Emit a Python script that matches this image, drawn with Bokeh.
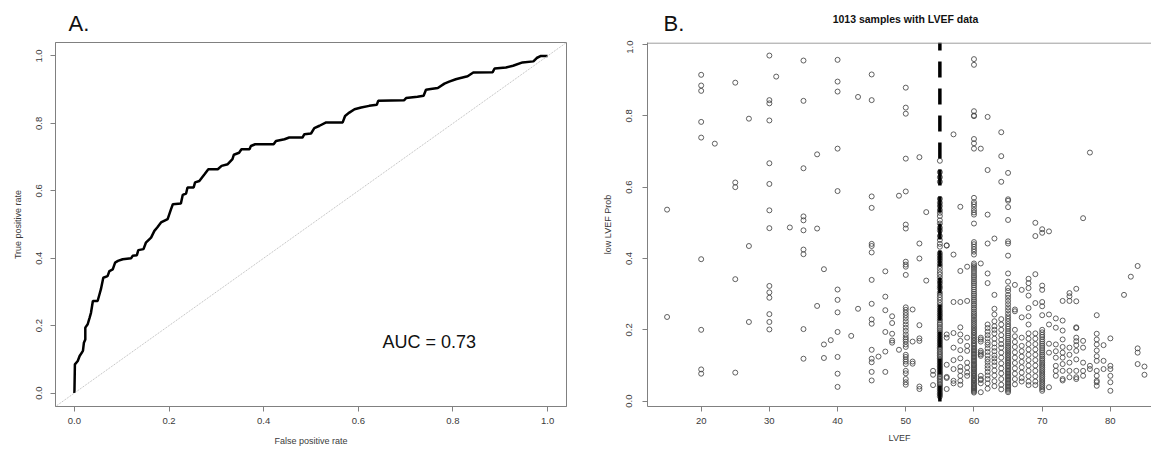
from bokeh.plotting import figure
from bokeh.layouts import row, column
from bokeh.models import (Label, Slope, Span, FixedTicker, Range1d,
                          PrintfTickFormatter)
from bokeh.core.properties import value
from bokeh.embed import file_html
from bokeh.resources import INLINE

# ---------------- Panel A: ROC curve ----------------
fpr = [0.000, 0.001, 0.007, 0.011, 0.018, 0.020, 0.023, 0.023, 0.028, 0.032,
       0.035, 0.039, 0.049, 0.053, 0.056, 0.061, 0.070, 0.074, 0.081, 0.086,
       0.092, 0.102, 0.120, 0.123, 0.132, 0.135, 0.146, 0.151, 0.162, 0.169,
       0.175, 0.183, 0.197, 0.204, 0.208, 0.225, 0.229, 0.236, 0.239, 0.252,
       0.255, 0.264, 0.275, 0.283, 0.303, 0.311, 0.324, 0.334, 0.337, 0.348,
       0.353, 0.370, 0.373, 0.382, 0.421, 0.426, 0.444, 0.454, 0.482, 0.486,
       0.500, 0.507, 0.518, 0.532, 0.567, 0.572, 0.581, 0.592, 0.606, 0.623,
       0.639, 0.642, 0.697, 0.701, 0.725, 0.738, 0.743, 0.753, 0.768, 0.782,
       0.792, 0.806, 0.814, 0.831, 0.843, 0.884, 0.888, 0.912, 0.927, 0.947,
       0.970, 0.977, 0.986, 1.000]
tpr = [0.000, 0.085, 0.095, 0.110, 0.125, 0.149, 0.159, 0.194, 0.204, 0.223,
       0.238, 0.273, 0.273, 0.293, 0.308, 0.342, 0.347, 0.362, 0.367, 0.387,
       0.392, 0.397, 0.400, 0.407, 0.409, 0.424, 0.427, 0.446, 0.461, 0.481,
       0.491, 0.506, 0.516, 0.545, 0.560, 0.562, 0.588, 0.592, 0.610, 0.610,
       0.625, 0.629, 0.649, 0.664, 0.664, 0.674, 0.679, 0.694, 0.707, 0.713,
       0.723, 0.723, 0.733, 0.738, 0.738, 0.748, 0.753, 0.758, 0.758, 0.768,
       0.770, 0.786, 0.793, 0.803, 0.803, 0.822, 0.832, 0.842, 0.847, 0.852,
       0.855, 0.867, 0.869, 0.875, 0.879, 0.882, 0.900, 0.902, 0.905, 0.918,
       0.924, 0.931, 0.934, 0.940, 0.951, 0.952, 0.963, 0.966, 0.971, 0.981,
       0.984, 0.994, 1.000, 1.000]
auc_text = "AUC = 0.73"
roc_ticks = [0.0, 0.2, 0.4, 0.6, 0.8, 1.0]

# ---------------- Panel B: low LVEF probability vs LVEF ----------------
p15 = [0.537, 0.236]
p20 = [0.915, 0.885, 0.870, 0.783, 0.739, 0.398, 0.200, 0.089, 0.077]
p22 = [0.722]
p25 = [0.893, 0.613, 0.600, 0.342, 0.080]
p27 = [0.792, 0.435, 0.222]
p30 = [0.969, 0.844, 0.835, 0.787, 0.667, 0.609, 0.535, 0.485, 0.323, 0.305,
       0.290, 0.244, 0.222, 0.201]
p31 = [0.910]
p33 = [0.487]
p35 = [0.955, 0.842, 0.653, 0.518, 0.507, 0.479, 0.425, 0.412, 0.202, 0.119]
p37 = [0.692, 0.484, 0.267]
p38 = [0.370, 0.159, 0.121]
p39 = [0.171]
p40 = [0.957, 0.896, 0.868, 0.708, 0.589, 0.313, 0.284, 0.249, 0.194, 0.124,
       0.077, 0.040]
p42 = [0.183]
p43 = [0.853, 0.259]
p45 = [0.916, 0.844, 0.574, 0.542, 0.441, 0.435, 0.417, 0.340, 0.273, 0.229,
       0.217, 0.144, 0.119, 0.109, 0.082, 0.058]
p46 = [0.125]
p47 = [0.364, 0.293, 0.255, 0.194, 0.139, 0.082]
p48 = [0.238, 0.219, 0.189, 0.170, 0.164]
p49 = [0.576, 0.144]
p50 = [0.879, 0.823, 0.806, 0.680, 0.588, 0.495, 0.484, 0.391, 0.383, 0.377,
       0.354, 0.263, 0.256, 0.248, 0.241, 0.233, 0.224, 0.215, 0.206, 0.197,
       0.187, 0.179, 0.173, 0.167, 0.159, 0.152, 0.130, 0.124, 0.117, 0.111,
       0.104, 0.085, 0.078, 0.062, 0.053, 0.046]
p51 = [0.257, 0.167, 0.111, 0.105]
p52 = [0.684, 0.442, 0.400, 0.213, 0.176, 0.169, 0.041, 0.034]
p53 = [0.530, 0.338]
p54 = [0.085, 0.074, 0.045]
p55 = [0.674, 0.642, 0.628, 0.615, 0.567, 0.556, 0.547, 0.536, 0.528, 0.519,
       0.507, 0.498, 0.486, 0.478, 0.463, 0.452, 0.441, 0.433, 0.415, 0.408,
       0.401, 0.394, 0.386, 0.379, 0.371, 0.362, 0.355, 0.347, 0.338, 0.331,
       0.322, 0.316, 0.305, 0.298, 0.291, 0.284, 0.276, 0.269, 0.262, 0.255,
       0.249, 0.243, 0.238, 0.231, 0.226, 0.219, 0.214, 0.208, 0.203, 0.197,
       0.192, 0.186, 0.181, 0.176, 0.171, 0.166, 0.161, 0.156, 0.151, 0.147,
       0.142, 0.137, 0.133, 0.128, 0.124, 0.119, 0.115, 0.110, 0.106, 0.101,
       0.097, 0.093, 0.089, 0.084, 0.080, 0.076, 0.071, 0.067, 0.063, 0.058,
       0.054, 0.049, 0.045, 0.041, 0.036, 0.032, 0.027, 0.022, 0.018, 0.013]
p56 = [0.437, 0.436, 0.187, 0.178, 0.102, 0.068, 0.065, 0.034]
p57 = [0.748, 0.411, 0.278, 0.191, 0.150, 0.115, 0.090, 0.057, 0.050]
p58 = [0.545, 0.365, 0.278, 0.207, 0.187, 0.169, 0.143, 0.120, 0.096, 0.085,
       0.071, 0.057, 0.046]
p59 = [0.377, 0.281, 0.178, 0.155, 0.141, 0.108, 0.094, 0.080, 0.071]
p60 = [0.959, 0.943, 0.813, 0.801, 0.799, 0.735, 0.723, 0.708, 0.570, 0.558,
       0.552, 0.545, 0.536, 0.529, 0.523, 0.498, 0.446, 0.440, 0.433, 0.426,
       0.419, 0.411, 0.386, 0.381, 0.376, 0.371, 0.365, 0.359, 0.353, 0.348,
       0.342, 0.336, 0.331, 0.325, 0.319, 0.313, 0.307, 0.301, 0.296, 0.290,
       0.284, 0.279, 0.273, 0.268, 0.262, 0.257, 0.251, 0.246, 0.241, 0.236,
       0.230, 0.225, 0.220, 0.215, 0.210, 0.205, 0.200, 0.195, 0.191, 0.186,
       0.181, 0.177, 0.172, 0.168, 0.163, 0.159, 0.155, 0.150, 0.146, 0.142,
       0.138, 0.134, 0.130, 0.126, 0.122, 0.118, 0.114, 0.110, 0.106, 0.102,
       0.099, 0.095, 0.091, 0.088, 0.084, 0.080, 0.077, 0.073, 0.070, 0.066,
       0.063, 0.059, 0.056, 0.052, 0.049, 0.046, 0.042, 0.039, 0.036, 0.033,
       0.030, 0.027, 0.024]
p61 = [0.708, 0.386, 0.178, 0.173, 0.167, 0.141, 0.136, 0.131, 0.127, 0.071,
       0.062, 0.059, 0.050, 0.025]
p62 = [0.797, 0.648, 0.523, 0.442, 0.358, 0.331, 0.215, 0.205, 0.195, 0.185,
       0.176, 0.165, 0.158, 0.148, 0.138, 0.128, 0.118, 0.110, 0.100, 0.092,
       0.082, 0.072, 0.062, 0.050, 0.035]
p63 = [0.456, 0.298, 0.259, 0.243, 0.224, 0.210, 0.200, 0.190, 0.175, 0.162,
       0.150, 0.140, 0.128, 0.120, 0.110, 0.100, 0.086, 0.072, 0.056, 0.042]
p64 = [0.754, 0.687, 0.615, 0.230, 0.215, 0.200, 0.185, 0.172, 0.160, 0.150,
       0.136, 0.122, 0.106, 0.092, 0.078, 0.062, 0.046, 0.033]
p65 = [0.640, 0.566, 0.562, 0.544, 0.508, 0.448, 0.442, 0.408, 0.358, 0.335,
       0.317, 0.309, 0.298, 0.290, 0.281, 0.272, 0.263, 0.255, 0.246, 0.238,
       0.231, 0.224, 0.216, 0.209, 0.203, 0.196, 0.190, 0.184, 0.178, 0.172,
       0.166, 0.161, 0.155, 0.150, 0.145, 0.140, 0.135, 0.130, 0.125, 0.120,
       0.116, 0.111, 0.107, 0.102, 0.098, 0.094, 0.089, 0.085, 0.081, 0.077,
       0.073, 0.069, 0.065, 0.061, 0.057, 0.053, 0.049, 0.045, 0.041, 0.037,
       0.033, 0.029, 0.025]
p66 = [0.326, 0.257, 0.252, 0.200, 0.182, 0.166, 0.152, 0.137, 0.122, 0.107,
       0.092, 0.077, 0.062, 0.047]
p67 = [0.312, 0.235, 0.178, 0.155, 0.140, 0.125, 0.110, 0.095, 0.080, 0.065,
       0.055]
p68 = [0.343, 0.331, 0.317, 0.296, 0.261, 0.238, 0.215, 0.190, 0.175, 0.160,
       0.145, 0.130, 0.115, 0.100, 0.085, 0.070, 0.055, 0.045]
p69 = [0.500, 0.463, 0.356, 0.275, 0.190, 0.175, 0.160, 0.145, 0.130, 0.115,
       0.100, 0.085, 0.070, 0.055, 0.045]
p70 = [0.482, 0.472, 0.324, 0.312, 0.278, 0.266, 0.241, 0.200, 0.193, 0.186,
       0.180, 0.173, 0.167, 0.161, 0.155, 0.149, 0.143, 0.137, 0.131, 0.126,
       0.120, 0.115, 0.109, 0.104, 0.099, 0.094, 0.089, 0.084, 0.079, 0.074,
       0.069, 0.064, 0.059, 0.054, 0.049, 0.044, 0.039, 0.034, 0.029]
p71 = [0.476, 0.243, 0.215, 0.161, 0.136, 0.039]
p72 = [0.232, 0.206, 0.159, 0.140, 0.122, 0.099, 0.085, 0.071]
p73 = [0.281, 0.226, 0.198, 0.173, 0.152, 0.136, 0.122, 0.104, 0.085, 0.062,
       0.058]
p74 = [0.303, 0.294, 0.281, 0.150, 0.130, 0.108, 0.085, 0.067]
p75 = [0.315, 0.280, 0.207, 0.205, 0.178, 0.168, 0.157, 0.141, 0.117, 0.085,
       0.067, 0.062]
p76 = [0.513, 0.169, 0.150, 0.108, 0.085, 0.071]
p77 = [0.697, 0.099, 0.090]
p78 = [0.241, 0.189, 0.173, 0.159, 0.142, 0.126, 0.113, 0.085, 0.071, 0.057,
       0.053, 0.043]
p79 = [0.157, 0.113, 0.090]
p80 = [0.176, 0.099, 0.090, 0.071, 0.053, 0.029]
p82 = [0.298]
p83 = [0.349]
p84 = [0.379, 0.148, 0.136, 0.104]
p85 = [0.097, 0.074]

lvef_groups = [(15, p15), (20, p20), (22, p22), (25, p25), (27, p27), (30, p30),
               (31, p31), (33, p33), (35, p35), (37, p37), (38, p38), (39, p39),
               (40, p40), (42, p42), (43, p43), (45, p45), (46, p46), (47, p47),
               (48, p48), (49, p49), (50, p50), (51, p51), (52, p52), (53, p53),
               (54, p54), (55, p55), (56, p56), (57, p57), (58, p58), (59, p59),
               (60, p60), (61, p61), (62, p62), (63, p63), (64, p64), (65, p65),
               (66, p66), (67, p67), (68, p68), (69, p69), (70, p70), (71, p71),
               (72, p72), (73, p73), (74, p74), (75, p75), (76, p76), (77, p77),
               (78, p78), (79, p79), (80, p80), (82, p82), (83, p83), (84, p84),
               (85, p85)]
lvef_cutoff = 55
lvef_ticks = [20, 30, 40, 50, 60, 70, 80]
prob_ticks = [0.0, 0.2, 0.4, 0.6, 0.8, 1.0]
title_b = "1013 samples with LVEF data"
panel_letters = ["A.", "B."]

lvef_all, prob_all = [], []
for lv, probs in lvef_groups:
    lvef_all += [lv] * len(probs)
    prob_all += probs

FONT = "Liberation Sans"
AX = "#808080"
TXT = "#3a3a3a"
HEAD_H = 40


def style_axes(p, ylabel_standoff, xlab_standoff):
    for ax in p.axis:
        ax.axis_line_color = AX
        ax.major_tick_line_color = AX
        ax.minor_tick_line_color = None
        ax.major_tick_out = 5
        ax.major_tick_in = 0
        ax.major_label_text_font = FONT
        ax.major_label_text_font_size = "9.5px"
        ax.major_label_text_color = TXT
        ax.axis_label_text_font = FONT
        ax.axis_label_text_font_size = "9px"
        ax.axis_label_text_font_style = "normal"
        ax.axis_label_text_color = TXT
    p.yaxis.major_label_orientation = "vertical"
    p.xaxis.major_label_standoff = 6
    p.yaxis.major_label_standoff = ylabel_standoff
    p.xaxis.axis_label_standoff = xlab_standoff
    p.yaxis.axis_label_standoff = 11
    p.grid.visible = False


# ---------- header strip with panel letters and panel-B title ----------
head = figure(width=1151, height=HEAD_H, x_range=Range1d(0, 1151),
              y_range=Range1d(HEAD_H, 0), x_axis_type=None, y_axis_type=None,
              output_backend="svg", toolbar_location=None, min_border=0,
              title=None)
head.outline_line_color = None
head.grid.visible = False
head.text(x=[68, 663], y=[22.8, 22.5], text=panel_letters,
          text_font=value(FONT), text_font_size="22px", text_align="left",
          text_baseline="middle", text_color="#111111")
head.text(x=[905], y=[18], text=[title_b], text_font=value(FONT),
          text_font_size="10.5px", text_font_style="bold", text_align="center",
          text_baseline="middle", text_color="#111111")

# ---------- figure A ----------
pa = figure(width=587, height=449 - HEAD_H, x_range=Range1d(-0.04, 1.04),
            y_range=Range1d(-0.04, 1.04), output_backend="svg", title=None,
            toolbar_location=None, min_border_left=55, min_border_right=21,
            min_border_top=2, min_border_bottom=43)
pa.outline_line_color = AX
pa.add_layout(Slope(gradient=1, y_intercept=0, line_color="#b8b8b8",
                    line_width=1, line_dash="1 1"))
pa.line(fpr, tpr, line_color="black", line_width=2.5)
pa.xaxis.ticker = FixedTicker(ticks=roc_ticks)
pa.yaxis.ticker = FixedTicker(ticks=roc_ticks)
pa.xaxis.formatter = PrintfTickFormatter(format="%.1f")
pa.yaxis.formatter = PrintfTickFormatter(format="%.1f")
pa.xaxis.axis_label = "False positive rate"
pa.yaxis.axis_label = "True positive rate"
style_axes(pa, 8, 9)
pa.add_layout(Label(x=0.75, y=0.15, text=auc_text, text_font=FONT,
                    text_font_size="18px", text_align="center",
                    text_baseline="middle", text_color="#111111"))

# ---------- figure B ----------
pb = figure(width=564, height=449 - HEAD_H, x_range=Range1d(12.13, 86.03),
            y_range=Range1d(-0.015, 1.0056), output_backend="svg", title=None,
            toolbar_location=None, min_border_left=60, min_border_right=0,
            min_border_top=1, min_border_bottom=41)
pb.outline_line_color = None
pb.scatter(lvef_all, prob_all, marker="circle", size=5, fill_color=None,
           line_color="#444444", line_width=0.85)
pb.add_layout(Span(location=lvef_cutoff, dimension="height", line_color="black",
                   line_width=3.5, line_dash="16 11", line_dash_offset=8))
# top border of the plotting box (the right side runs off the picture)
pb.add_layout(Span(location=pb.y_range.end - 0.0015, dimension="width",
                   line_color=AX, line_width=1))
pb.xaxis.ticker = FixedTicker(ticks=lvef_ticks)
pb.yaxis.ticker = FixedTicker(ticks=prob_ticks)
pb.xaxis.formatter = PrintfTickFormatter(format="%d")
pb.yaxis.formatter = PrintfTickFormatter(format="%.1f")
pb.xaxis.axis_label = "LVEF"
pb.yaxis.axis_label = "low LVEF Prob"
style_axes(pb, 10, 6)

layout = column(head, row(pa, pb))
open("out.html", "w").write(file_html(layout, INLINE))
